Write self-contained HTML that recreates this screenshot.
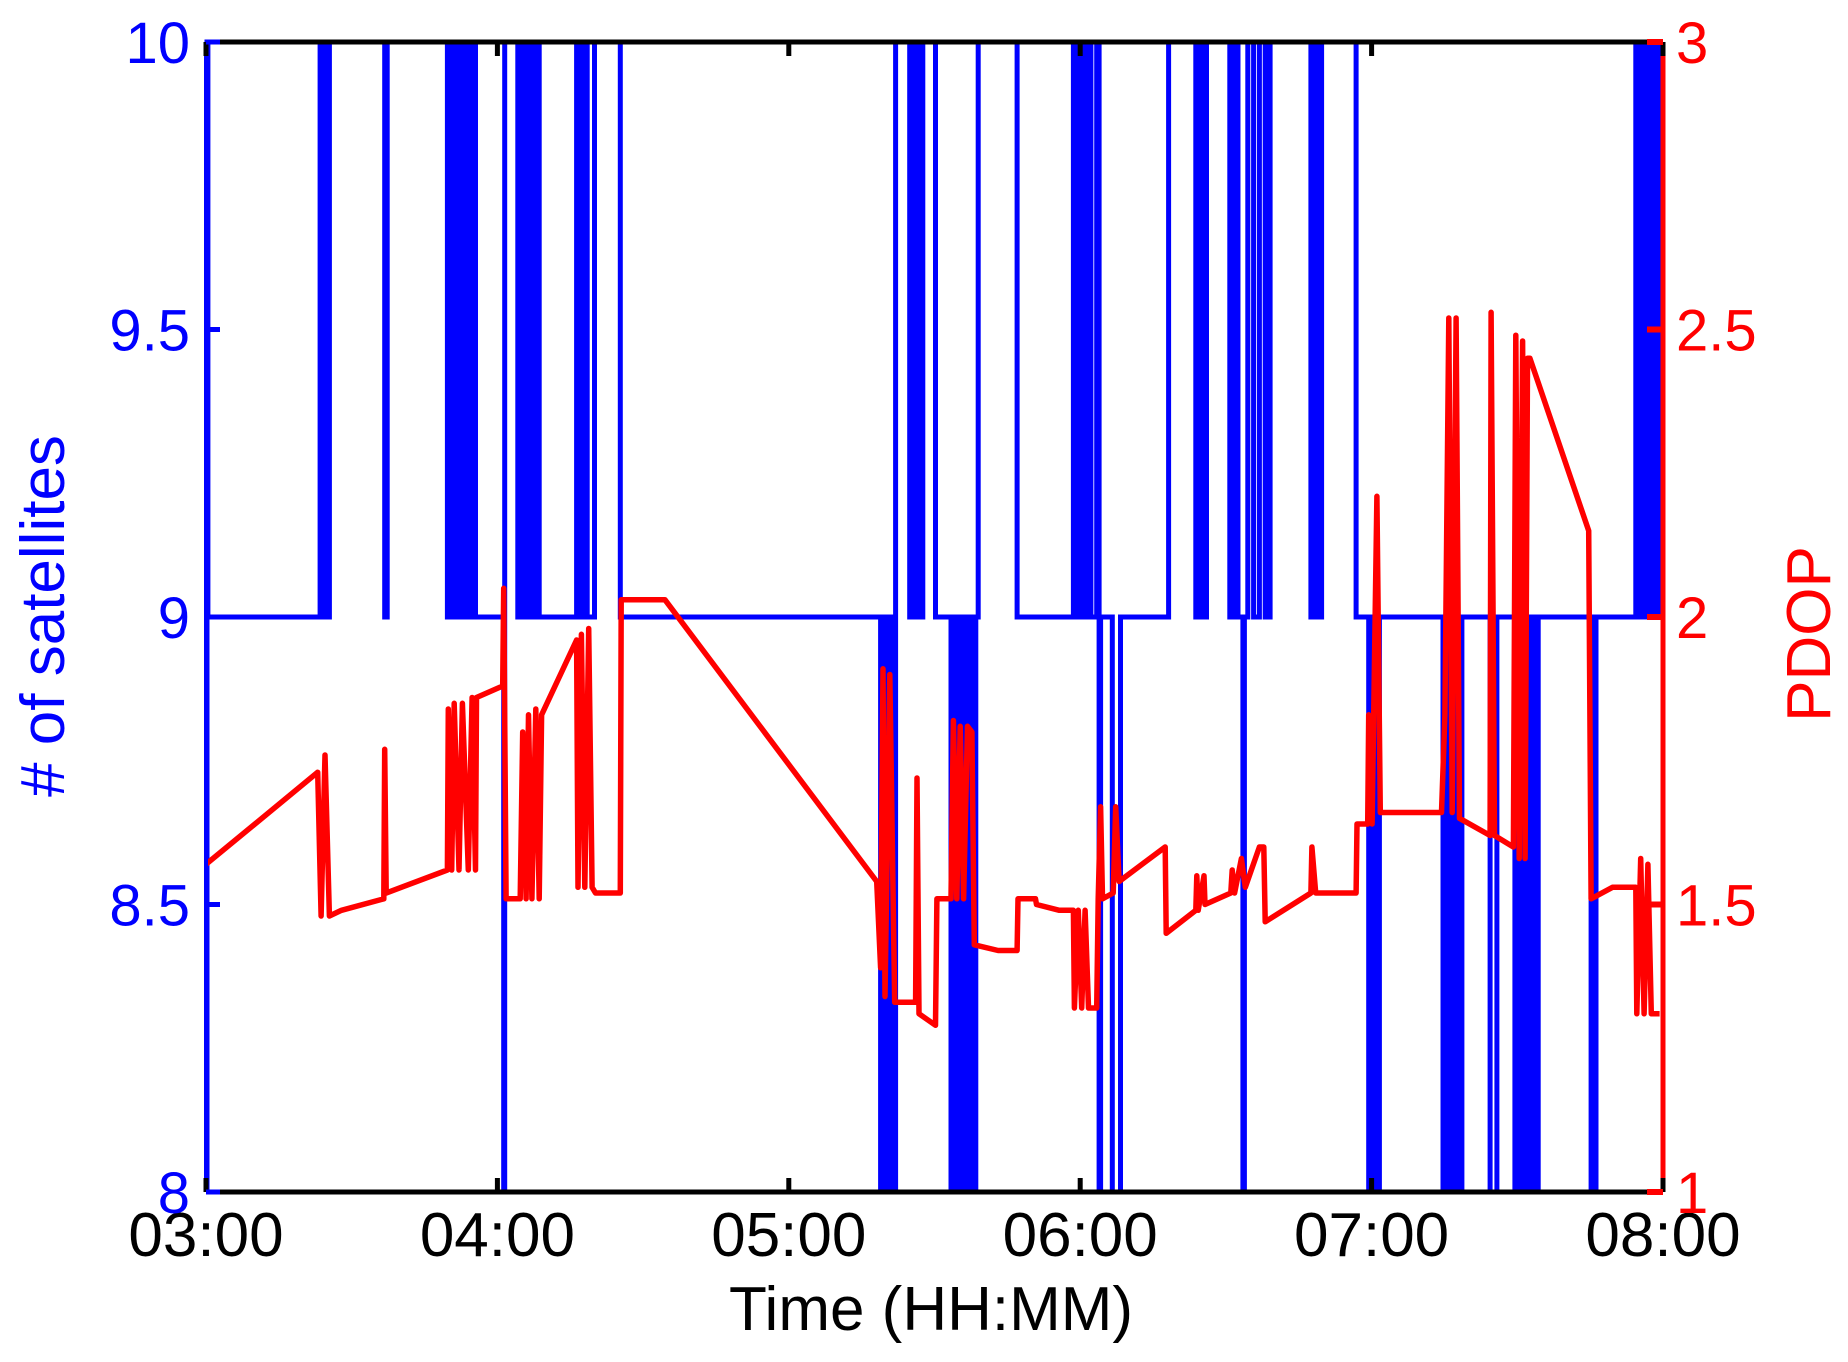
<!DOCTYPE html>
<html><head><meta charset="utf-8">
<style>
html,body{margin:0;padding:0;background:#fff;}
svg{display:block;font-family:"Liberation Sans",Arial,sans-serif;}
</style></head>
<body>
<svg id="chart" width="1848" height="1362" viewBox="0 0 1848 1362" xmlns="http://www.w3.org/2000/svg">
<rect x="0" y="0" width="1848" height="1362" fill="#fff"/>
<g id="plot"></g>
<g id="axes"></g>
<text x="931" y="1330" font-size="62" text-anchor="middle" fill="#000">Time (HH:MM)</text>
<text x="0" y="0" transform="translate(64,616) rotate(-90)" font-size="62" text-anchor="middle" fill="#0000ff"># of satellites</text>
<text x="0" y="0" transform="translate(1830,634) rotate(-90)" font-size="62" text-anchor="middle" fill="#ff0000">PDOP</text>
</svg>
<script>
// ---- data (time in minutes after 03:00) ----
const xTickLabels = ["03:00","04:00","05:00","06:00","07:00","08:00"];
const leftTickValues = [8, 8.5, 9, 9.5, 10];
const leftTickLabels = ["8","8.5","9","9.5","10"];
const rightTickValues = [1, 1.5, 2, 2.5, 3];
const rightTickLabels = ["1","1.5","2","2.5","3"];

const satTimes = [0,0.2,0.4,23.5,24,24.5,25,25.4,36.8,37.3,49.7,50.4,51.1,51.9,52.6,53.3,54,54.8,55.5,61.3,61.5,64.2,64.9,65.7,66.4,67.1,67.9,68.6,76.3,77.1,77.8,78.5,80,85.3,138.9,139.4,140.1,140.8,141.5,142,144.9,145.6,146.6,147.6,150.2,153.4,154.1,154.8,155.6,156.3,157,157.7,158.5,159,167,178.6,179.3,180.1,180.8,181.5,182.2,183.4,183.9,184.2,186.6,188.3,198.2,203.8,204.5,205.3,206,210.8,211.6,212.5,213.5,213.8,214.5,215.7,216.9,218.1,219.1,227.5,228.2,229,229.7,236.8,239.4,240.1,240.9,241.6,254.7,255.4,256.1,256.9,257.6,258.6,264.4,265.8,269.5,270.4,271.4,272.4,273.3,274.3,285.2,286.2,294.4,295.4,296.4,297.3,298.3,299.3,300];
const satValues = [8,10,9,10,9,10,9,10,9,10,9,10,9,10,9,10,9,10,9,8,10,9,10,9,10,9,10,9,10,9,10,9,10,9,8,9,8,9,8,10,9,10,9,10,9,8,9,8,9,8,9,8,9,10,9,10,9,10,9,10,9,10,8,9,8,9,10,9,10,9,10,9,10,9,8,9,10,9,10,9,10,9,10,9,10,9,8,9,8,9,8,9,8,9,8,9,8,9,8,9,8,9,8,9,8,9,10,9,10,9,10,9,9];

const pdopTimes = [0,23.0,23.7,24.5,25.4,27.9,36.6,36.8,37.1,49.7,49.9,50.6,51.1,52.1,52.8,54.0,54.8,55.5,55.7,61.1,61.3,61.8,64.7,65.2,65.9,66.4,67.1,67.9,68.6,69.1,76.3,76.6,77.3,78.0,78.8,79.5,80.2,85.3,85.5,94.5,138.1,138.9,139.4,139.8,140.8,141.8,146.1,146.4,146.8,150.2,150.5,153.4,153.9,154.6,155.3,156.0,156.8,157.7,158.2,163.1,167.0,167.2,170.8,171.0,175.7,178.6,178.8,179.6,180.3,181.0,181.7,183.4,183.7,184.2,184.6,186.8,187.3,188.0,197.5,197.7,203.8,204.0,204.3,205.5,205.7,211.0,211.3,211.8,213.2,214.0,216.9,217.8,218.1,227.5,227.7,228.5,236.8,237.0,239.2,239.4,240.1,241.1,241.8,254.4,255.1,255.9,256.6,257.4,258.1,264.4,264.6,265.3,269.2,269.7,270.4,271.1,271.6,272.1,272.6,284.7,285.2,289.6,294.4,294.6,295.4,296.1,296.9,297.6,298.6,299.3];
const pdopValues = [1.57,1.73,1.48,1.76,1.48,1.49,1.51,1.77,1.52,1.56,1.84,1.56,1.85,1.56,1.85,1.56,1.86,1.56,1.86,1.88,2.05,1.51,1.51,1.80,1.51,1.83,1.51,1.84,1.51,1.83,1.96,1.53,1.97,1.53,1.98,1.53,1.52,1.52,2.03,2.03,1.54,1.39,1.91,1.34,1.90,1.33,1.33,1.72,1.31,1.29,1.51,1.51,1.82,1.51,1.81,1.51,1.81,1.80,1.43,1.42,1.42,1.51,1.51,1.50,1.49,1.49,1.32,1.49,1.32,1.49,1.32,1.32,1.51,1.67,1.51,1.52,1.67,1.54,1.60,1.45,1.49,1.55,1.49,1.55,1.50,1.52,1.56,1.52,1.58,1.53,1.60,1.60,1.47,1.52,1.60,1.52,1.52,1.64,1.64,1.83,1.64,2.21,1.66,1.66,1.83,2.52,1.66,2.52,1.65,1.62,2.53,1.62,1.60,2.49,1.58,2.48,1.58,2.45,2.45,2.15,1.51,1.53,1.53,1.31,1.58,1.31,1.57,1.31,1.31,1.31];

// ---- layout ----
const L = 206, R = 1663, T = 42, B = 1192;
const NS = "http://www.w3.org/2000/svg";
function xs(t){ return L + (t/300)*(R-L); }
function yl(v){ return B - (v-8)/2*(B-T); }
function yr(v){ return B - (v-1)/2*(B-T); }
function mk(tag, attrs, parent){
  const e = document.createElementNS(NS, tag);
  for (const k in attrs) e.setAttribute(k, attrs[k]);
  parent.appendChild(e);
  return e;
}
const plotG = document.getElementById('plot');
const axesG = document.getElementById('axes');

// satellites step line
let satPath = "";
for (let i=0;i<satTimes.length;i++){
  const x = xs(satTimes[i]).toFixed(1), y = yl(satValues[i]).toFixed(1);
  if (i===0) satPath += "M"+x+","+y;
  else satPath += "L"+x+","+yl(satValues[i-1]).toFixed(1)+"L"+x+","+y;
}
const satLine = mk('path',{d:satPath,fill:'none',stroke:'#0000ff','stroke-width':5,'stroke-linejoin':'miter'},plotG);



// pdop line
let pdopPath = "";
for (let i=0;i<pdopTimes.length;i++){
  pdopPath += (i===0?"M":"L")+xs(pdopTimes[i]).toFixed(1)+","+yr(pdopValues[i]).toFixed(1);
}
const pLine = mk('path',{d:pdopPath,fill:'none',stroke:'#ff0000','stroke-width':5.5,'stroke-linejoin':'round'},plotG);



// axes box
const topAxis = mk('line',{x1:L,y1:T,x2:R,y2:T,stroke:'#000','stroke-width':5},axesG);


const botAxis = mk('line',{x1:L,y1:B,x2:R,y2:B,stroke:'#000','stroke-width':5},axesG);


const leftAxis = mk('line',{x1:L,y1:T,x2:L,y2:B,stroke:'#0000ff','stroke-width':4},axesG);


const rightAxis = mk('line',{x1:R,y1:T,x2:R,y2:B,stroke:'#ff0000','stroke-width':5},axesG);



// x ticks
for (let i=0;i<xTickLabels.length;i++){
  const x = xs(i*60);
  mk('line',{x1:x,y1:B,x2:x,y2:B-14,stroke:'#000','stroke-width':5},axesG);
  mk('line',{x1:x,y1:T,x2:x,y2:T+14,stroke:'#000','stroke-width':5},axesG);
  const t = mk('text',{x:x,y:1256,'font-size':62,'text-anchor':'middle',fill:'#000'},axesG);
  t.textContent = xTickLabels[i];
  
  
}
// left ticks
for (let i=0;i<leftTickValues.length;i++){
  const y = yl(leftTickValues[i]);
  mk('line',{x1:L,y1:y,x2:L+14,y2:y,stroke:'#0000ff','stroke-width':5},axesG);
  const t = mk('text',{x:190,y:y+21,'font-size':58,'text-anchor':'end',fill:'#0000ff'},axesG);
  t.textContent = leftTickLabels[i];
  
  
}
// right ticks
for (let i=0;i<rightTickValues.length;i++){
  const y = yr(rightTickValues[i]);
  mk('line',{x1:R,y1:y,x2:R-16,y2:y,stroke:'#ff0000','stroke-width':6},axesG);
  const t = mk('text',{x:1676,y:y+21,'font-size':58,'text-anchor':'start',fill:'#ff0000'},axesG);
  t.textContent = rightTickLabels[i];
  
  
}
</script>
</body></html>
